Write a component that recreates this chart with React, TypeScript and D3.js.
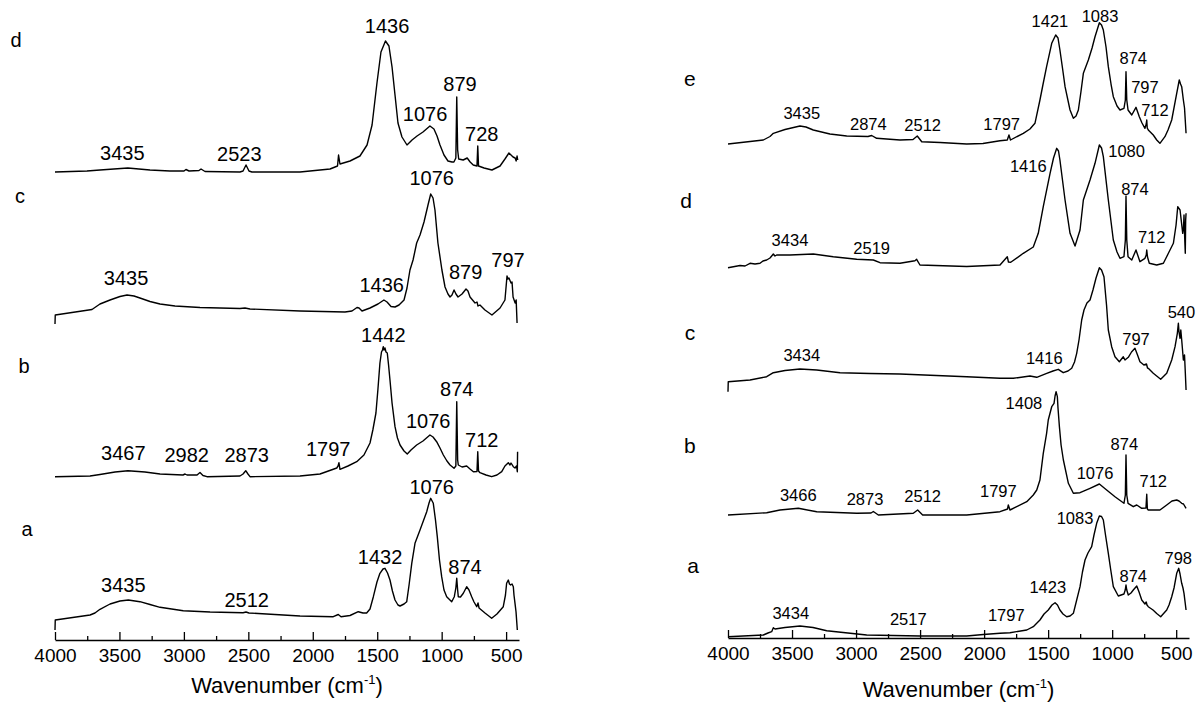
import { useEffect, useRef } from "react";
import * as d3 from "d3";

type Pt = [number, number];
type Label = [string, number, number];

// Left panel spectra: [wavenumber (cm-1), intensity (a.u., stacked)]
const leftD: Pt[] = [
  [4000, 468], [3752, 469], [3651, 470], [3435, 472], [3263, 470], [3108, 469], [2999, 469], [2984, 470.5],
  [2960, 469], [2883, 469.5], [2867, 471], [2836, 468.5], [2565, 468], [2541, 469], [2518, 475], [2495, 469],
  [2472, 468], [2099, 468], [1866, 471], [1808, 474], [1800, 485], [1789, 476], [1711, 479], [1634, 484],
  [1579, 495], [1540, 515], [1502, 557], [1471, 588], [1436, 599], [1409, 594], [1385, 573], [1362, 545],
  [1339, 517], [1308, 503], [1269, 495], [1230, 500], [1191, 504], [1145, 508], [1091, 514], [1060, 511],
  [1036, 504], [1013, 495], [982, 485], [951, 479], [920, 478], [905, 478], [890, 482], [883, 543],
  [876, 490], [868, 481], [833, 480], [802, 482], [779, 478], [755, 475], [726, 474], [720, 494],
  [714, 474], [671, 472], [610, 470], [547, 474], [509, 481], [478, 487], [446, 483], [430, 482],
  [422, 479], [415, 484], [410, 480],
];
const leftC: Pt[] = [
  [4000, 316], [3998, 325], [3713, 330.5], [3651, 336], [3573, 340], [3496, 343.5], [3441, 345], [3387, 344],
  [3341, 342], [3263, 338.5], [3185, 336], [3069, 334], [2875, 332.5], [2565, 331.5], [2526, 332], [2487, 331],
  [2099, 329], [1750, 328], [1696, 329], [1657, 332.5], [1641, 332], [1618, 329], [1556, 332], [1494, 336],
  [1448, 340], [1424, 338], [1393, 333.5], [1362, 333], [1331, 335], [1292, 340], [1269, 352], [1246, 370],
  [1222, 380], [1194, 397], [1168, 405], [1137, 418], [1106, 435], [1085, 446], [1067, 442], [1052, 430],
  [1029, 397], [998, 370], [974, 353], [951, 346], [935, 343], [920, 345], [904, 350], [889, 346],
  [873, 343], [842, 346], [811, 351], [796, 349], [780, 343], [741, 337], [726, 338], [718, 334],
  [703, 335], [664, 330], [610, 325], [547, 332], [509, 340], [493, 364], [486, 361], [478, 362],
  [462, 357], [454, 358], [446, 343], [430, 337], [422, 340], [415, 317],
];
const leftB: Pt[] = [
  [4000, 163.3], [3728, 164], [3651, 165.5], [3534, 168], [3434, 169.3], [3302, 168], [3185, 166], [3007, 165],
  [2991, 166], [2976, 165], [2898, 165], [2875, 167.5], [2852, 164.5], [2821, 163.3], [2565, 164], [2541, 166],
  [2520, 169.3], [2503, 166], [2487, 163.3], [2099, 164], [1944, 166], [1814, 172], [1804, 174], [1797, 177.3],
  [1789, 170.7], [1727, 174], [1659, 178.3], [1603, 185], [1556, 197], [1534, 210], [1510, 227], [1495, 250],
  [1479, 277], [1467, 288], [1459, 290], [1453, 293.3], [1447, 290], [1440, 292], [1432, 288], [1422, 287],
  [1412, 275], [1401, 260], [1385, 237], [1362, 213.3], [1343, 202], [1323, 195], [1292, 189], [1267, 186],
  [1238, 190], [1194, 195], [1145, 199], [1091, 205], [1067, 203], [1039, 198.3], [1013, 192], [987, 185],
  [959, 179], [935, 175], [904, 171.7], [890, 174], [883, 238.3], [876, 180], [871, 175], [842, 173],
  [806, 174], [780, 171], [754, 168.3], [726, 168.5], [720, 188.3], [714, 169], [703, 167.3], [656, 165],
  [612, 163.3], [571, 165], [534, 168.3], [509, 174], [483, 177.3], [470, 175], [462, 177], [444, 173.3],
  [431, 172], [419, 174], [413, 168.3], [411, 188.3],
];
const leftA: Pt[] = [
  [4000, 10], [3998, 20], [3728, 25], [3690, 27], [3651, 30.7], [3573, 36], [3496, 39], [3431, 40],
  [3341, 38.3], [3263, 35.5], [3185, 32.7], [3005, 29.3], [2797, 28], [2541, 27.3], [2518, 28], [2495, 27],
  [2099, 24], [1841, 23.3], [1802, 25.5], [1781, 23.3], [1711, 24.5], [1647, 28.3], [1610, 27], [1582, 27],
  [1556, 31], [1530, 43.3], [1502, 58], [1479, 66.7], [1455, 71], [1440, 71.7], [1420, 67], [1401, 60],
  [1382, 49], [1362, 40], [1339, 35], [1323, 34], [1292, 36], [1271, 38.3], [1253, 55], [1232, 76.7],
  [1207, 96.7], [1168, 110], [1116, 128.3], [1098, 137], [1085, 141.7], [1065, 136.7], [1048, 120], [1034, 103.3],
  [1017, 80], [1000, 63.3], [982, 50], [961, 43.3], [922, 38.3], [902, 43.3], [890, 52], [883, 61.7],
  [876, 50], [871, 43.3], [854, 43], [832, 46.7], [806, 53.3], [788, 50], [767, 43.3], [749, 38],
  [728, 33.3], [718, 37], [710, 32], [664, 27], [612, 21.7], [571, 26], [522, 33.3], [505, 45],
  [496, 56.7], [483, 60], [474, 56], [465, 55], [454, 56], [444, 53.3], [439, 45], [431, 36.7],
  [423, 28], [413, 10],
];

// Right panel spectra
const rightE: Pt[] = [
  [4000, 494], [3724, 498], [3672, 501.5], [3646, 504.7], [3555, 508.5], [3438, 512], [3391, 511], [3334, 508],
  [3204, 504], [3073, 502], [2907, 501.5], [2878, 502.5], [2839, 499.7], [2657, 498], [2555, 498.5], [2522, 502],
  [2487, 496.3], [2344, 495.5], [2136, 494], [2009, 494.5], [1876, 497.3], [1819, 498], [1806, 503], [1794, 498],
  [1694, 504.7], [1642, 509], [1603, 514.7], [1564, 538], [1541, 553], [1512, 571.3], [1472, 594.7], [1441, 603],
  [1423, 600], [1408, 588], [1388, 570], [1368, 551.3], [1329, 528], [1303, 519.7], [1282, 522], [1264, 528],
  [1244, 546], [1225, 564.7], [1186, 578], [1157, 590], [1134, 601.3], [1100, 615.3], [1083, 613], [1069, 608],
  [1048, 591], [1030, 571.3], [1009, 554], [991, 541.3], [962, 532], [939, 528], [908, 529.7], [897, 538],
  [892, 566.3], [886, 538], [876, 528], [847, 523], [814, 530.7], [788, 521.3], [767, 515], [744, 509.7],
  [734, 514], [730, 518], [726, 510], [718, 508], [679, 503], [652, 498], [627, 494.7], [588, 501.3],
  [564, 508], [535, 518], [496, 544.7], [476, 558], [466, 554], [457, 551.3], [444, 538], [435, 530],
  [423, 504.7],
];
const rightD: Pt[] = [
  [4000, 370.3], [3906, 372.5], [3867, 372], [3828, 374.7], [3789, 374], [3750, 374.7], [3727, 377], [3698, 378],
  [3672, 380], [3646, 384], [3633, 382], [3620, 383], [3516, 383], [3334, 384], [3178, 381.3], [2995, 378.7],
  [2865, 378], [2813, 375.3], [2657, 374.7], [2540, 377.3], [2527, 378.7], [2501, 373], [2136, 371.5], [1876, 373],
  [1819, 381.3], [1810, 376], [1792, 375.7], [1694, 384.7], [1616, 391], [1577, 404.7], [1538, 431.3], [1485, 464.7],
  [1458, 480], [1433, 489.7], [1419, 487], [1408, 478], [1368, 438], [1329, 404.7], [1290, 392], [1251, 408],
  [1225, 438], [1173, 458], [1134, 474.7], [1100, 493], [1083, 490], [1069, 481.3], [1030, 438], [991, 398],
  [962, 386], [939, 379.7], [908, 381.3], [897, 398], [892, 442], [886, 398], [876, 381.3], [847, 378],
  [814, 388], [783, 376.3], [744, 379.7], [734, 383], [730, 388], [724, 381], [710, 374.7], [652, 373],
  [600, 374.7], [561, 384.7], [522, 394.7], [501, 413], [488, 431.3], [470, 428], [449, 404.7], [443, 410],
  [439, 423], [433, 398], [429, 384.7], [426, 418], [423, 424.7],
];
const rightC: Pt[] = [
  [4000, 246.3], [3998, 256.3], [3828, 258], [3698, 261.3], [3646, 265.3], [3555, 267.5], [3438, 269], [3307, 268],
  [3125, 265.3], [2891, 264.5], [2657, 264], [2136, 261.3], [1876, 259.7], [1772, 259.7], [1642, 262], [1589, 260.7],
  [1511, 264.7], [1462, 267], [1421, 268.7], [1382, 265.3], [1345, 267], [1316, 269.7], [1294, 276], [1277, 284.7],
  [1259, 298], [1238, 318], [1220, 328], [1197, 335], [1173, 338], [1150, 348], [1126, 360], [1100, 370.3],
  [1083, 368], [1064, 361.3], [1044, 333], [1030, 308], [1004, 291.3], [978, 281.3], [944, 276.3], [913, 281.3],
  [900, 278], [874, 280.7], [849, 286], [822, 289.7], [802, 283], [783, 276.3], [752, 273], [732, 274],
  [724, 270], [718, 269.7], [679, 264.7], [621, 258.7], [574, 264.7], [535, 278], [509, 291.3], [491, 304.7],
  [483, 314.7], [478, 306], [470, 299.7], [464, 308], [457, 298], [444, 278], [435, 283], [429, 266],
  [423, 248],
];
const rightB: Pt[] = [
  [4000, 123], [3698, 125.3], [3594, 128], [3451, 129.7], [3307, 126.3], [2995, 124.7], [2883, 125], [2865, 126.5],
  [2826, 123], [2553, 124.7], [2519, 128], [2480, 123], [2136, 123], [1876, 126.3], [1817, 129], [1811, 133],
  [1798, 128], [1667, 136.3], [1616, 143], [1589, 148], [1564, 158], [1538, 184.7], [1512, 204.7], [1499, 218],
  [1472, 231.3], [1454, 234.7], [1446, 242], [1438, 246.3], [1428, 241.3], [1423, 230], [1412, 211.3], [1399, 193],
  [1381, 178], [1342, 154.7], [1303, 144.7], [1251, 145.3], [1173, 149.7], [1100, 154], [1043, 148], [978, 141.3],
  [908, 134.7], [897, 143], [892, 183], [886, 143], [876, 134.7], [835, 131.3], [808, 133], [769, 129.7],
  [736, 130], [730, 143.7], [725, 129], [718, 128], [627, 128], [574, 133], [533, 137], [496, 138],
  [478, 137], [457, 134.7], [443, 134], [423, 129.7],
];
const rightA: Pt[] = [
  [4000, 1.3], [3724, 3], [3688, 5], [3659, 6.3], [3646, 10.3], [3633, 9], [3555, 10.5], [3438, 12],
  [3336, 10.5], [3229, 7.3], [2917, 3], [2501, 2], [2136, 2], [2006, 3.5], [1876, 4.7], [1798, 5.3],
  [1667, 8], [1616, 11.3], [1564, 18], [1532, 24], [1499, 28], [1470, 33], [1446, 35.3], [1427, 33],
  [1408, 28], [1384, 24], [1355, 21.3], [1329, 22], [1303, 24.7], [1277, 38], [1251, 51.3], [1232, 66],
  [1212, 78], [1189, 85], [1160, 91.3], [1142, 103], [1121, 114.7], [1100, 122], [1083, 121.5], [1069, 118],
  [1052, 103], [1030, 84.7], [1011, 68], [991, 51.3], [952, 42], [908, 44], [898, 48], [892, 53],
  [886, 48], [874, 43], [853, 45], [835, 48], [808, 52], [790, 46], [769, 38], [744, 34],
  [734, 36], [728, 33], [718, 31.3], [681, 28], [652, 24.5], [621, 21.3], [574, 28], [556, 33],
  [535, 41.3], [517, 50], [496, 64.7], [480, 69.7], [470, 64], [457, 54.7], [447, 50], [439, 44.7],
  [423, 28],
];

// Peak annotations: [text, wavenumber, intensity]
const leftPeaks: Label[] = [
  ["3435", 3478, 487.7], ["2523", 2570, 486.7], ["1436", 1424, 614.5], ["1076", 1129, 526.7], ["879", 858, 556.7], ["728", 689, 506.7],
  ["3435", 3449, 362], ["1436", 1465, 355], ["1076", 1077, 462], ["879", 814, 368], ["797", 485, 380],
  ["1442", 1453, 305], ["874", 883, 251.7], ["1076", 1104, 219.3], ["712", 689, 200], ["1797", 1880, 191.7],
  ["3467", 3470, 187.3], ["2982", 2978, 185], ["2873", 2513, 185],
  ["1076", 1077, 153.3], ["1432", 1478, 83.3], ["874", 819, 73.3], ["3435", 3470, 55], ["2512", 2513, 40.7],
];
const rightPeaks: Label[] = [
  ["1421", 1486, 617.3], ["1083", 1095, 622], ["874", 835, 579.7], ["797", 744, 550.7], ["712", 666, 528],
  ["3435", 3424, 525.3], ["2874", 2904, 514], ["2512", 2480, 513], ["1797", 1863, 514],
  ["1416", 1655, 472.3], ["1080", 887, 487.3], ["874", 822, 448.7], ["712", 691, 401.3], ["3434", 3516, 398], ["2519", 2878, 389.7],
  ["3434", 3424, 283], ["1416", 1530, 279.7], ["797", 814, 298.7], ["540", 459, 326.3],
  ["1408", 1689, 235.3], ["874", 905, 194], ["1076", 1134, 165.3], ["712", 679, 157.3], ["1797", 1889, 147.3],
  ["2512", 2480, 142], ["2873", 2930, 139], ["3466", 3451, 143],
  ["1083", 1290, 119.7], ["798", 484, 79.7], ["874", 835, 62], ["1423", 1503, 51.3], ["1797", 1827, 23],
  ["2517", 2592, 18.7], ["3434", 3510, 25.3],
];

// Sample letters beside each trace
const leftNames: Label[] = [["d", 4303, 600], ["c", 4272, 444], ["b", 4241, 274], ["a", 4217, 111]];
const rightNames: Label[] = [["e", 4297, 560], ["d", 4328, 438], ["c", 4297, 306], ["b", 4297, 193], ["a", 4273, 73]];

const majorTicks = [4000, 3500, 3000, 2500, 2000, 1500, 1000, 500];
const minorTicks = [3750, 3250, 2750, 2250, 1750, 1250, 750];

const FONT = "'Liberation Sans', Arial, Helvetica, sans-serif";

export default function App() {
  const svgRef = useRef<SVGSVGElement | null>(null);

  useEffect(() => {
    if (!svgRef.current) return;
    const svg = d3.select(svgRef.current);
    svg.selectAll("*").remove();

    const panels = [
      { x0: 55, x1: 519, axisY: 640, top: 640, series: [leftA, leftB, leftC, leftD], peaks: leftPeaks, names: leftNames, peakSize: 20, nameSize: 20, titleY: 693 },
      { x0: 728, x1: 1189, axisY: 638, top: 638, series: [rightA, rightB, rightC, rightD, rightE], peaks: rightPeaks, names: rightNames, peakSize: 16.5, nameSize: 21, titleY: 697 },
    ];

    panels.forEach((p) => {
      const x = d3.scaleLinear().domain([4000, 400]).range([p.x0, p.x1]);
      const y = d3.scaleLinear().domain([0, p.top]).range([p.axisY, p.axisY - p.top]);
      const g = svg.append("g");

      const line = d3
        .line<Pt>()
        .x((d) => x(d[0]))
        .y((d) => y(d[1]));

      g.selectAll("path.spec")
        .data(p.series)
        .join("path")
        .attr("class", "spec")
        .attr("d", (d) => line(d))
        .attr("fill", "none")
        .attr("stroke", "#000")
        .attr("stroke-width", 1.4)
        .attr("stroke-linejoin", "round");

      // minor ticks
      g.append("g")
        .attr("transform", `translate(0,${p.axisY})`)
        .call(d3.axisBottom(x).tickValues(minorTicks).tickSizeInner(-4).tickSizeOuter(0).tickFormat(() => ""))
        .call((a) => a.select(".domain").remove())
        .call((a) => a.selectAll("line").attr("stroke-width", 1.3));

      // major ticks + axis line
      const ax = g
        .append("g")
        .attr("transform", `translate(0,${p.axisY})`)
        .call(d3.axisBottom(x).tickValues(majorTicks).tickSizeInner(-8).tickSizeOuter(0).tickPadding(9).tickFormat(d3.format("d")));
      ax.select(".domain").attr("stroke-width", 1.4);
      ax.selectAll("line").attr("stroke-width", 1.3);
      ax.selectAll("text").attr("font-family", FONT).attr("font-size", 19).attr("fill", "#000");

      const title = g
        .append("text")
        .attr("x", (p.x0 + p.x1) / 2)
        .attr("y", p.titleY)
        .attr("text-anchor", "middle")
        .attr("font-family", FONT)
        .attr("font-size", 22)
        .attr("fill", "#000");
      title.append("tspan").text("Wavenumber (cm");
      title.append("tspan").attr("font-size", 13).attr("dy", -9).text("-1");
      title.append("tspan").attr("dy", 9).text(")");

      g.selectAll("text.peak")
        .data(p.peaks)
        .join("text")
        .attr("class", "peak")
        .attr("x", (d) => x(d[1]))
        .attr("y", (d) => y(d[2]))
        .attr("dy", "0.36em")
        .attr("text-anchor", "middle")
        .attr("font-family", FONT)
        .attr("font-size", p.peakSize)
        .attr("fill", "#000")
        .text((d) => d[0]);

      g.selectAll("text.name")
        .data(p.names)
        .join("text")
        .attr("class", "name")
        .attr("x", (d) => x(d[1]))
        .attr("y", (d) => y(d[2]))
        .attr("dy", "0.36em")
        .attr("text-anchor", "middle")
        .attr("font-family", FONT)
        .attr("font-size", p.nameSize)
        .attr("fill", "#000")
        .text((d) => d[0]);
    });
  }, []);

  return (
    <div style={{ position: "absolute", left: 0, top: 0, width: 1201, height: 702, background: "#fff" }}>
      <svg ref={svgRef} width={1201} height={702} viewBox="0 0 1201 702"></svg>
    </div>
  );
}
